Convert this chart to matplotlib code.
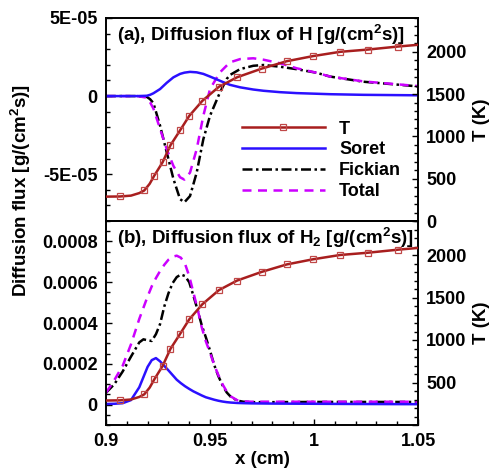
import numpy as np
import matplotlib
matplotlib.use("Agg")
import matplotlib.pyplot as plt
from matplotlib.ticker import MultipleLocator, FixedLocator, FixedFormatter

# ---- data ----
# temperature profile (same in both panels)
x_T = [0.900, 0.9067, 0.912, 0.916, 0.9184, 0.921, 0.9232, 0.9272, 0.931, 0.9356,
       0.940, 0.9463, 0.9543, 0.963, 0.9748, 0.9869, 0.9994, 1.0125, 1.026, 1.0405, 1.05]
T_val = [288, 290, 300, 330, 361, 440, 536, 694, 896, 1071,
         1242, 1420, 1587, 1699, 1801, 1889, 1949, 2000, 2027, 2063, 2083]
T_markers = [1, 4, 6, 7, 8, 9, 10, 11, 12, 13, 14, 15, 16, 17, 18, 19]

# (a) flux of H, units of 1e-5 g/(cm^2 s)
x_h = [0.900, 0.915, 0.9196, 0.9212, 0.9228, 0.926, 0.9292, 0.9324, 0.9356, 0.9377,
       0.9404, 0.9436, 0.9468, 0.950, 0.9548, 0.958, 0.9596, 0.9645, 0.9708, 0.9757,
       0.9837, 0.9917, 1.001, 1.0077, 1.0237, 1.05]
soret_h = [0, 0, 0.02, 0.08, 0.18, 0.45, 0.85, 1.2, 1.42, 1.5,
           1.55, 1.52, 1.42, 1.25, 0.98, 0.8, 0.72, 0.56, 0.42, 0.34,
           0.25, 0.19, 0.15, 0.12, 0.08, 0.05]
fick_h = [0, 0, -0.05, -0.2, -0.45, -1.9, -3.6, -5.3, -6.6, -6.8,
          -6.4, -4.9, -2.76, -1.26, 0.24, 1.09, 1.35, 1.73, 1.94, 1.99,
          1.88, 1.72, 1.5, 1.25, 0.92, 0.62]
total_h = [0, 0, -0.1, -0.4, -0.8, -2.1, -3.4, -4.47, -5.2, -5.35,
           -4.9, -3.4, -1.26, 0.45, 1.52, 1.95, 2.16, 2.37, 2.42, 2.33,
           2.1, 1.78, 1.5, 1.25, 0.94, 0.64]

# (b) flux of H2, units of 1e-4 g/(cm^2 s)
x_h2 = [0.900, 0.904, 0.908, 0.912, 0.916, 0.918, 0.920, 0.922, 0.924, 0.926,
        0.928, 0.930, 0.932, 0.934, 0.936, 0.938, 0.940, 0.942, 0.944, 0.946,
        0.948, 0.950, 0.952, 0.954, 0.956, 0.958, 0.960, 0.963, 0.966, 0.970,
        0.980, 1.000, 1.020, 1.050]
soret_h2 = [0.03, 0.04, 0.07, 0.22, 0.85, 1.35, 1.85, 2.18, 2.28, 2.12,
            1.9, 1.68, 1.45, 1.22, 1.05, 0.9, 0.77, 0.65, 0.55, 0.45,
            0.36, 0.3, 0.24, 0.19, 0.15, 0.12, 0.1, 0.08, 0.07, 0.06,
            0.05, 0.04, 0.03, 0.02]
fick_h2 = [0.58, 1.0, 1.62, 2.35, 3.05, 3.2, 3.15, 3.12, 3.45, 3.95,
           4.8, 5.45, 5.95, 6.25, 6.38, 6.3, 6.0, 5.35, 4.65, 3.9,
           3.3, 2.65, 1.95, 1.4, 0.95, 0.6, 0.38, 0.2, 0.14, 0.12,
           0.12, 0.13, 0.13, 0.13]
total_h2 = [0.58, 1.2, 1.9, 2.95, 4.2, 4.75, 5.3, 5.8, 6.2, 6.55,
            6.85, 7.1, 7.25, 7.3, 7.2, 6.9, 6.3, 5.5, 4.7, 3.8,
            3.1, 2.55, 1.95, 1.45, 1.0, 0.65, 0.4, 0.22, 0.16, 0.14,
            0.14, 0.14, 0.14, 0.14]

x_ticks = [0.9, 0.95, 1.0, 1.05]
x_ticklabels = ["0.9", "0.95", "1", "1.05"]
ya_ticks = [-5e-5, 0, 5e-5]
ya_ticklabels = ["-5E-05", "0", "5E-05"]
yb_ticks = [0, 2e-4, 4e-4, 6e-4, 8e-4]
yb_ticklabels = ["0", "0.0002", "0.0004", "0.0006", "0.0008"]
T_ticks = [0, 500, 1000, 1500, 2000]
Ta_ticklabels = ["0", "500", "1000", "1500", "2000"]
Tb_ticklabels = ["", "500", "1000", "1500", "2000"]

# ---- style ----
plt.rcParams["font.family"] = "Liberation Sans"
plt.rcParams["font.weight"] = "bold"
plt.rcParams["axes.labelweight"] = "bold"
plt.rcParams["mathtext.fontset"] = "custom"
plt.rcParams["mathtext.rm"] = "Liberation Sans:bold"
plt.rcParams["mathtext.it"] = "Liberation Sans:bold"
plt.rcParams["mathtext.bf"] = "Liberation Sans:bold"

FS = 13
C_T = "#A81E1E"
C_TM = "#C04848"
C_S = "#2B10FF"
C_F = "black"
C_TOT = "#CC00FF"
LW = 1.8
FICK_LS = (0, (4, 1.4, 1, 1.4))
TOT_LS = (0, (3.6, 2.6))

fig = plt.figure(figsize=(4.93, 4.71), dpi=100)
W, H = 493.0, 471.0
left, right = 106 / W, 418 / W
ax_a = fig.add_axes([left, (H - 221) / H, right - left, 203 / H])
ax_b = fig.add_axes([left, (H - 425) / H, right - left, 204 / H])


def style_axes(ax):
    for s in ax.spines.values():
        s.set_linewidth(1.2)
    ax.tick_params(which="both", direction="in", labelsize=FS, width=1.0)
    ax.tick_params(which="major", length=4.5, pad=6)
    ax.tick_params(which="minor", length=3)


def draw_T(ax, tick_labels):
    axr = ax.twinx()
    axr.plot(x_T, T_val, color=C_T, lw=LW, marker="s", markersize=5,
             markerfacecolor="none", markeredgecolor=C_TM, markeredgewidth=0.9,
             markevery=T_markers, label="T", zorder=3)
    axr.set_ylim(0, 2400)
    axr.yaxis.set_major_locator(FixedLocator(T_ticks))
    axr.yaxis.set_major_formatter(FixedFormatter(tick_labels))
    axr.yaxis.set_minor_locator(MultipleLocator(100))
    style_axes(axr)
    axr.set_ylabel("T (K)", fontsize=FS + 0.5)
    axr.yaxis.set_label_coords(1.175, 0.5)
    return axr


# ---- panel (a) ----
xa = np.array(x_h)
la_s, = ax_a.plot(xa, np.array(soret_h) * 1e-5, color=C_S, lw=LW, label="Soret", zorder=4)
la_f, = ax_a.plot(xa, np.array(fick_h) * 1e-5, color=C_F, lw=LW, ls=FICK_LS, label="Fickian")
la_t, = ax_a.plot(xa, np.array(total_h) * 1e-5, color=C_TOT, lw=LW, ls=TOT_LS, label="Total")
ax_a.set_xlim(0.9, 1.05)
ax_a.set_ylim(-8e-5, 5e-5)
ax_a.yaxis.set_major_locator(FixedLocator(ya_ticks))
ax_a.yaxis.set_major_formatter(FixedFormatter(ya_ticklabels))
ax_a.yaxis.set_minor_locator(MultipleLocator(1e-5))
style_axes(ax_a)
ax_a.tick_params(axis="x", which="both", bottom=False, labelbottom=False)
ax_a.text(0.035, 0.915, r"(a), Diffusion flux of H [g/(cm$^{2}$s)]",
          transform=ax_a.transAxes, fontsize=FS + 0.5, va="center", ha="left")

axr_a = draw_T(ax_a, Ta_ticklabels)
lT = axr_a.get_lines()[0]
axr_a.tick_params(axis="x", which="both", bottom=False, labelbottom=False)
leg = axr_a.legend([lT, la_s, la_f, la_t], ["T", "Soret", "Fickian", "Total"],
                   loc="upper left", bbox_to_anchor=(0.435, 0.495), frameon=False,
                   fontsize=FS, handlelength=4.6, handletextpad=0.8,
                   labelspacing=0.22, borderpad=0, borderaxespad=0, numpoints=1)

# ---- panel (b) ----
xb = np.array(x_h2)
ax_b.plot(xb, np.array(fick_h2) * 1e-4, color=C_F, lw=LW, ls=FICK_LS)
ax_b.plot(xb, np.array(total_h2) * 1e-4, color=C_TOT, lw=LW, ls=TOT_LS)
ax_b.plot(xb, np.array(soret_h2) * 1e-4, color=C_S, lw=LW, zorder=4)
ax_b.set_xlim(0.9, 1.05)
ax_b.set_ylim(-1e-4, 9e-4)
ax_b.yaxis.set_major_locator(FixedLocator(yb_ticks))
ax_b.yaxis.set_major_formatter(FixedFormatter(yb_ticklabels))
ax_b.yaxis.set_minor_locator(MultipleLocator(5e-5))
ax_b.xaxis.set_major_locator(FixedLocator(x_ticks))
ax_b.xaxis.set_major_formatter(FixedFormatter(x_ticklabels))
ax_b.xaxis.set_minor_locator(MultipleLocator(0.01))
style_axes(ax_b)
ax_b.tick_params(axis="x", which="both", top=False)
ax_b.text(0.035, 0.915, r"(b), Diffusion flux of H$_{2}$ [g/(cm$^{2}$s)]",
          transform=ax_b.transAxes, fontsize=FS + 0.5, va="center", ha="left")
ax_b.set_xlabel("x (cm)", fontsize=FS + 0.5)
ax_b.xaxis.set_label_coords(0.5, -0.125)

axr_b = draw_T(ax_b, Tb_ticklabels)

fig.text(21 / W, 1 - 190 / H, r"Diffusion flux [g/(cm$^{2}$s)]", rotation=90,
         ha="center", va="center", fontsize=FS + 0.5)

fig.savefig("out.png", dpi=100)
